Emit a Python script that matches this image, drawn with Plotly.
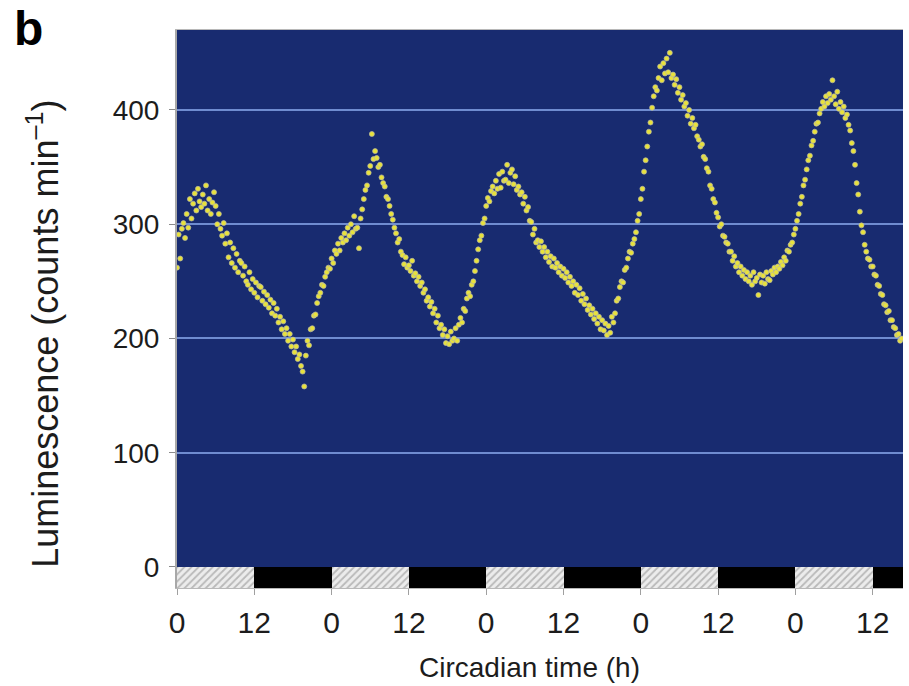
import numpy as np
import plotly.graph_objects as go

# Bioluminescence recording, one reading every 15 min (counts per minute)
SAMPLE_STEP_H = 0.25

lum_day1 = [
    262, 291, 270, 296,  301, 288, 309, 297,  322, 305, 318, 327,  312, 331, 320, 315,
    326, 318, 334, 312,  322, 309, 319, 328,  316, 300, 309, 296,  290, 301, 283, 292,
    271, 284, 266, 279,  262, 274, 258, 268,  266, 255, 263, 250,  247, 258, 243, 252,
    240, 249, 236, 246,  245, 233, 241, 230,  238, 227, 234, 222,  231, 220, 226, 214,
    219, 208, 215, 204,  209, 198, 204, 193,  199, 188, 193, 182,  186, 176, 171, 158,
    185, 198, 194, 208,  209, 220, 221, 231,  237, 240, 247, 246,  254, 258, 262, 261,
]
lum_day2 = [
    270, 266, 277, 274,  283, 277, 288, 284,  292, 286, 297, 290,  300, 293, 307, 296,
    297, 279, 305, 313,  322, 330, 334, 345,  351, 379, 357, 364,  358, 350, 352, 341,
    336, 333, 324, 322,  316, 309, 304, 297,  292, 284, 287, 276,  273, 265, 271, 262,
    264, 259, 268, 255,  257, 250, 254, 246,  249, 240, 243, 233,  236, 228, 232, 222,
    226, 214, 220, 209,  212, 203, 208, 196,  202, 195, 206, 198,  200, 209, 198, 212,
    218, 214, 226, 224,  235, 240, 237, 247,  250, 259, 268, 278,  286, 290, 301, 305,
]
lum_day3 = [
    316, 323, 320, 329,  333, 327, 338, 331,  344, 332, 346, 338,  339, 352, 336, 345,
    348, 335, 342, 330,  333, 326, 328, 318,  324, 312, 315, 303,  302, 291, 296, 284,
    286, 280, 285, 276,  280, 271, 276, 267,  272, 263, 270, 262,  266, 258, 263, 255,
    261, 253, 258, 249,  254, 246, 250, 240,  247, 238, 244, 233,  239, 230, 235, 225,
    229, 221, 226, 217,  222, 213, 219, 208,  216, 207, 213, 203,  211, 205, 219, 214,
    222, 233, 235, 245,  250, 249, 260, 262,  270, 276, 275, 283,  287, 293, 303, 309,
]
lum_day4 = [
    322, 331, 346, 356,  368, 381, 389, 402,  412, 420, 417, 428,  438, 426, 441, 432,
    445, 433, 450, 428,  431, 422, 427, 415,  420, 409, 413, 403,  406, 395, 400, 388,
    393, 384, 387, 377,  374, 368, 370, 359,  357, 349, 346, 334,  331, 322, 319, 310,
    306, 298, 300, 290,  289, 284, 283, 276,  276, 268, 272, 263,  266, 258, 263, 255,
    260, 252, 258, 250,  255, 247, 258, 250,  253, 238, 256, 249,  255, 248, 258, 252,
    251, 259, 256, 262,  258, 263, 261, 267,  264, 271, 268, 277,  276, 282, 284, 291,
]
lum_day5 = [
    296, 303, 309, 318,  324, 334, 339, 348,  356, 360, 369, 373,  381, 388, 389, 397,
    401, 407, 403, 412,  406, 414, 409, 426,  412, 405, 416, 401,  407, 398, 403, 393,
    396, 387, 382, 371,  364, 352, 336, 326,  311, 299, 293, 282,  276, 270, 269, 263,
    263, 256, 255, 247,  246, 239, 238, 230,  229, 223, 224, 216,  216, 210, 209, 203,
    204, 198, 200,
]

luminescence = lum_day1 + lum_day2 + lum_day3 + lum_day4 + lum_day5
hours = np.arange(len(luminescence)) * SAMPLE_STEP_H

# Light regime bar: subjective day (hatched) and subjective night (black)
subjective_day_start = [0, 24, 48, 72, 96]
subjective_night_start = [12, 36, 60, 84, 108]
PHASE_H = 12
x_tick_vals = [0, 12, 24, 36, 48, 60, 72, 84, 96, 108]
x_tick_text = ["0", "12", "0", "12", "0", "12", "0", "12", "0", "12"]
y_tick_vals = [0, 100, 200, 300, 400]

BAR_DEPTH = 18.4
FONT = "Liberation Sans, Arial, Helvetica, sans-serif"

fig = go.Figure()

fig.add_trace(go.Bar(
    x=[s + PHASE_H / 2 for s in subjective_day_start],
    y=[BAR_DEPTH] * len(subjective_day_start),
    base=-BAR_DEPTH, width=PHASE_H,
    marker=dict(color="#e6e6e6", line_width=0,
                pattern=dict(shape="/", fgcolor="#858585", bgcolor="#ececec",
                             size=5, solidity=0.35)),
    hoverinfo="skip", showlegend=False,
))
fig.add_trace(go.Bar(
    x=[s + PHASE_H / 2 for s in subjective_night_start],
    y=[BAR_DEPTH] * len(subjective_night_start),
    base=-BAR_DEPTH, width=PHASE_H,
    marker=dict(color="#000000", line_width=0),
    hoverinfo="skip", showlegend=False,
))

fig.add_trace(go.Scatter(
    x=hours, y=luminescence, mode="markers",
    marker=dict(size=5, color="#e8e23c",
                line=dict(width=0.8, color="rgba(185,185,160,0.9)")),
    showlegend=False,
))

fig.update_layout(
    width=909, height=686,
    margin=dict(l=177, r=6, t=30, b=98),
    paper_bgcolor="white",
    plot_bgcolor="#182b70",
    barmode="overlay",
    bargap=0,
    font=dict(family=FONT, color="#1c1c1c"),
    xaxis=dict(
        range=[0, 112.7], tickmode="array", tickvals=x_tick_vals, ticktext=x_tick_text,
        ticks="outside", ticklen=6, tickcolor="#a0a0a0", tickwidth=1,
        showline=True, linecolor="#b8b8b8", linewidth=1, mirror=True,
        showgrid=False, zeroline=False, tickfont=dict(size=30),
        ticklabelstandoff=2,
    ),
    yaxis=dict(
        range=[-BAR_DEPTH, 470], tickmode="array", tickvals=y_tick_vals,
        ticks="outside", ticklen=6, tickcolor="#8a8a8a", tickwidth=1,
        showline=True, linecolor="#a8a8a8", linewidth=2,
        showgrid=False, zeroline=False, tickfont=dict(size=28),
        ticklabelstandoff=4,
        minor=dict(tickmode="array", tickvals=[100, 200, 300, 400], ticks="",
                   showgrid=True, gridcolor="#6f8cd0", gridwidth=1.5),
    ),
    annotations=[
        dict(text="<b>b</b>", xref="paper", yref="paper", x=-0.227, y=1.054,
             xanchor="left", yanchor="top", showarrow=False,
             font=dict(size=48, color="#000000")),
        dict(text="Luminescence (counts min<sup>–1</sup>)", xref="paper", yref="paper",
             x=-0.185, y=0.455, xanchor="center", yanchor="middle", textangle=-90,
             showarrow=False, font=dict(size=36)),
        dict(text="Circadian time (h)", xref="paper", yref="paper",
             x=0.486, y=-0.143, xanchor="center", yanchor="middle",
             showarrow=False, font=dict(size=28)),
    ],
)

fig.write_html("out.html")
